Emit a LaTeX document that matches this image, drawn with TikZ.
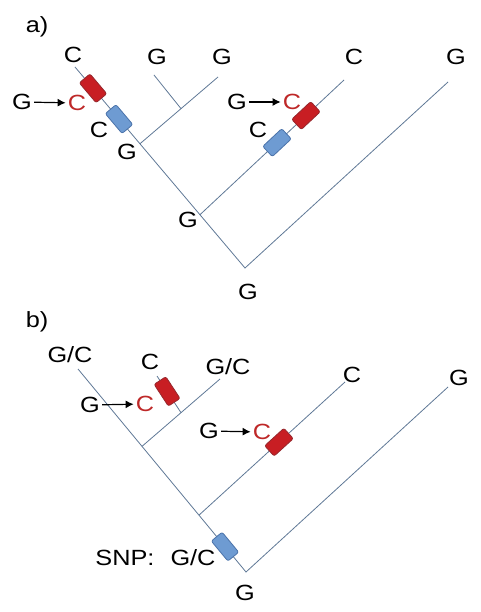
\documentclass[tikz,border=0pt]{standalone}
\usepackage{fontspec}
\setmainfont[FakeStretch=1.15]{Liberation Sans}
\usetikzlibrary{arrows.meta,calc}
\definecolor{treeline}{RGB}{95,120,150}
\definecolor{mutred}{RGB}{200,30,35}
\definecolor{mutredd}{RGB}{150,40,45}
\definecolor{mutblue}{RGB}{110,155,210}
\definecolor{mutblued}{RGB}{75,115,170}
\definecolor{txtred}{RGB}{190,40,40}
\begin{document}
\begin{tikzpicture}[x=1pt,y=-1pt,font=\fontsize{22}{26}\selectfont,
  tree/.style={draw=treeline,line width=0.8pt},
  redbox/.style={draw=mutredd,fill=mutred,rounded corners=2pt,minimum width=26pt,minimum height=14pt,inner sep=0pt,sloped,line width=0.8pt},
  bluebox/.style={draw=mutblued,fill=mutblue,rounded corners=2pt,minimum width=26pt,minimum height=14pt,inner sep=0pt,sloped,line width=0.8pt},
  lbl/.style={inner sep=0pt},
  rlbl/.style={lbl,text=txtred},
  arr/.style={-{Latex[length=8pt,width=8pt]},line width=1.2pt,shorten <=2pt,shorten >=2pt}]
\useasboundingbox (0,0) rectangle (481,612);

% ---------- panel a ----------
\coordinate (aR) at (245,268);
\coordinate (aT1) at (75,67);
\coordinate (aT5) at (448,82);
\coordinate (aN2) at ($(aR)!0.265!(aT1)$);
\coordinate (aN1) at ($(aR)!0.618!(aT1)$);
\coordinate (aT4) at (344,80);
\coordinate (aT3) at (218,77);
\coordinate (aM) at ($(aN1)!0.526!(aT3)$);
\coordinate (aT2) at (154,75);
\draw[tree] (aT1) -- (aR) -- (aT5);
\draw[tree] (aN2) -- (aT4);
\draw[tree] (aN1) -- (aT3);
\draw[tree] (aM) -- (aT2);
\path (aR) -- (aT1) node[redbox,pos=0.894] (aRed1) {} node[bluebox,pos=0.741] (aBlue1) {};
\path (aN2) -- (aT4) node[redbox,pos=0.736] (aRed2) {} node[bluebox,pos=0.535] (aBlue2) {};

\node[lbl] (aLab) at (37,27) {a)};
\node[lbl] (aL1) at (73,55) {C};
\node[lbl] (aL2) at (157,57) {G};
\node[lbl] (aL3) at (222,57) {G};
\node[lbl] (aL4) at (354,57) {C};
\node[lbl] (aL5) at (456,57) {G};
\node[lbl] (aG1) at (22,102) {G};
\node[rlbl] (aC1) at (77,103) {C};
\draw[arr] (aG1) -- (aC1);
\node[lbl] (aCb1) at (99,130) {C};
\node[lbl] (aGn1) at (127,152) {G};
\node[lbl] (aG2) at (237,102) {G};
\node[rlbl] (aC2) at (292,102) {C};
\draw[arr] (aG2) -- (aC2);
\node[lbl] (aCb2) at (258,130) {C};
\node[lbl] (aGn2) at (188,220) {G};
\node[lbl] (aGr) at (248,292) {G};

% ---------- panel b ----------
\coordinate (bR) at (246,572);
\coordinate (bT1) at (78,369);
\coordinate (bT5) at (448,387);
\coordinate (bN2) at ($(bR)!0.28!(bT1)$);
\coordinate (bN1) at ($(bR)!0.619!(bT1)$);
\coordinate (bT4) at (345,382);
\coordinate (bT3) at (220,379);
\coordinate (bM) at ($(bN1)!0.5!(bT3)$);
\coordinate (bT2) at (157,376);
\draw[tree] (bT1) -- (bR) -- (bT5);
\draw[tree] (bN2) -- (bT4);
\draw[tree] (bN1) -- (bT3);
\draw[tree] (bM) -- (bT2);
\path (bM) -- (bT2) node[redbox,pos=0.58] (bRed1) {};
\path (bN2) -- (bT4) node[redbox,pos=0.548] (bRed2) {};
\path (bR) -- (bT1) node[bluebox,pos=0.125] (bBlue) {};

\node[lbl] (bLab) at (37,322) {b)};
\node[lbl] (bL1) at (70,355) {G/C};
\node[lbl] (bL2) at (150,362) {C};
\node[lbl] (bL3) at (228,367) {G/C};
\node[lbl] (bL4) at (352,375) {C};
\node[lbl] (bL5) at (459,378) {G};
\node[lbl] (bG1) at (90,405) {G};
\node[rlbl] (bC1) at (145,404) {C};
\draw[arr] (bG1) -- (bC1);
\node[lbl] (bG2) at (209,431) {G};
\node[rlbl] (bC2) at (262,432) {C};
\draw[arr] (bG2) -- (bC2);
\node[lbl] (bSnp) at (125,558) {SNP:};
\node[lbl] (bSnpv) at (193,558) {G/C};
\node[lbl] (bGr) at (245,593) {G};
\end{tikzpicture}
\end{document}
